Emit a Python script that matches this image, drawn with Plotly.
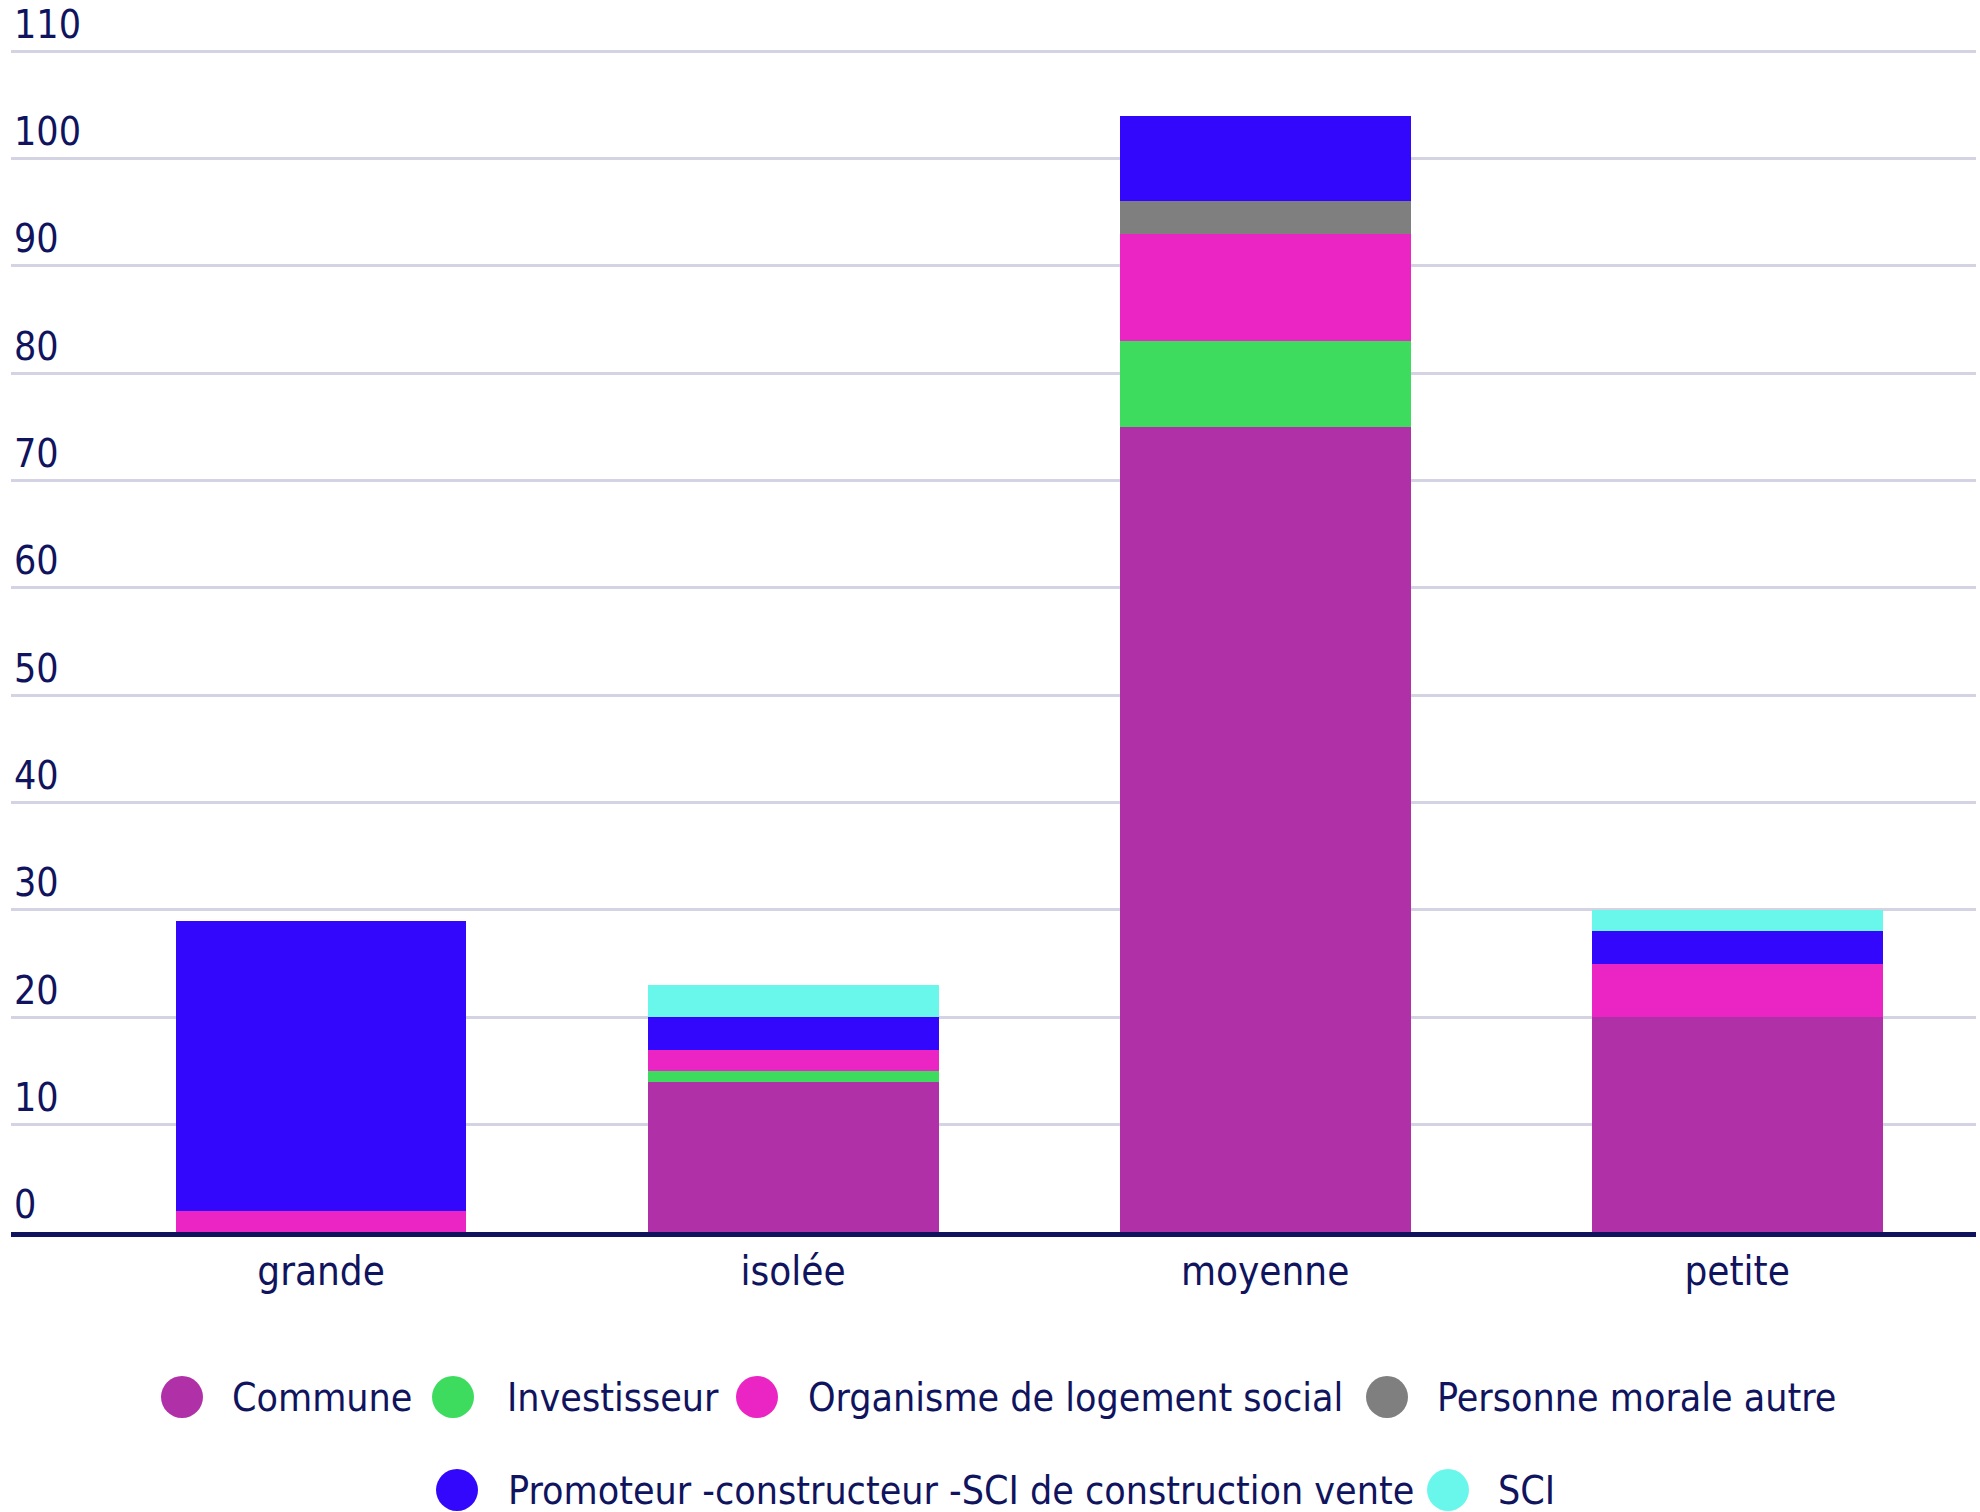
import plotly.graph_objects as go

# Categories and stacked series values
categories = ["grande", "isolée", "moyenne", "petite"]
commune = [0, 14, 75, 20]
investisseur = [0, 1, 8, 0]
organisme_logement_social = [2, 2, 10, 5]
personne_morale_autre = [0, 0, 3, 0]
promoteur = [27, 3, 8, 3]
sci = [0, 3, 0, 2]

series_names = [
    "Commune",
    "Investisseur",
    "Organisme de logement social",
    "Personne morale autre",
    "Promoteur -constructeur -SCI de construction vente",
    "SCI",
]
series_values = [commune, investisseur, organisme_logement_social,
                 personne_morale_autre, promoteur, sci]
series_colors = ["#b030a8", "#3ddc5f", "#eb25c3", "#7f7f7f", "#3307fc", "#69f7ec"]

y_ticks = [0, 10, 20, 30, 40, 50, 60, 70, 80, 90, 100, 110]

FONT = "DejaVu Sans Condensed, DejaVu Sans, sans-serif"
NAVY = "#10145e"

fig = go.Figure()
for name, vals, col in zip(series_names, series_values, series_colors):
    fig.add_trace(go.Bar(
        x=categories, y=vals, name=name,
        marker=dict(color=col, line=dict(width=0)),
        width=0.616, showlegend=False,
    ))

# Custom legend: circle swatch + label, two centred rows
W, H = 1980, 1512
ML, MR, MT, MB = 11, 4, 49, 280
plot_h = H - MT - MB
legend_rows = [
    [(0, 182, 230), (1, 453, 505), (2, 757, 806), (3, 1387, 1435)],
    [(4, 457, 506), (5, 1448, 1496)],
]
row_y = [1397, 1490]
shapes, annots = [], []
for row, ypix in zip(legend_rows, row_y):
    yp = (H - MB - ypix) / plot_h
    for idx, cx, tx in row:
        shapes.append(dict(
            type="circle", xref="paper", yref="paper",
            xsizemode="pixel", ysizemode="pixel",
            xanchor=(cx - ML) / (W - ML - MR), yanchor=yp,
            x0=-21, x1=21, y0=-21, y1=21,
            fillcolor=series_colors[idx], line=dict(width=0),
        ))
        annots.append(dict(
            text=series_names[idx], xref="paper", yref="paper",
            x=(tx - ML) / (W - ML - MR), y=yp,
            xanchor="left", yanchor="middle", showarrow=False,
            font=dict(family=FONT, size=39, color=NAVY),
        ))

fig.update_layout(
    width=W, height=H,
    margin=dict(l=ML, r=MR, t=MT, b=MB, pad=0),
    plot_bgcolor="white", paper_bgcolor="white",
    barmode="stack", bargap=0,
    font=dict(family=FONT, color=NAVY, size=40),
    shapes=shapes, annotations=annots,
    showlegend=False,
)
fig.update_xaxes(
    type="category", range=[-0.657, 3.506], automargin=False,
    showgrid=False, showline=True, linecolor=NAVY, linewidth=5,
    ticks="", ticklabelstandoff=0,
    tickfont=dict(family=FONT, size=40, color=NAVY),
)
fig.update_yaxes(
    range=[0, 110.2], tickvals=y_ticks, automargin=False,
    showgrid=True, gridcolor="#d3d3e3", gridwidth=3,
    zeroline=False, showline=False, ticks="",
    ticklabelposition="inside top", ticklabeloverflow="allow",
    tickfont=dict(family=FONT, size=39, color=NAVY),
)

fig.write_html("out.html")
